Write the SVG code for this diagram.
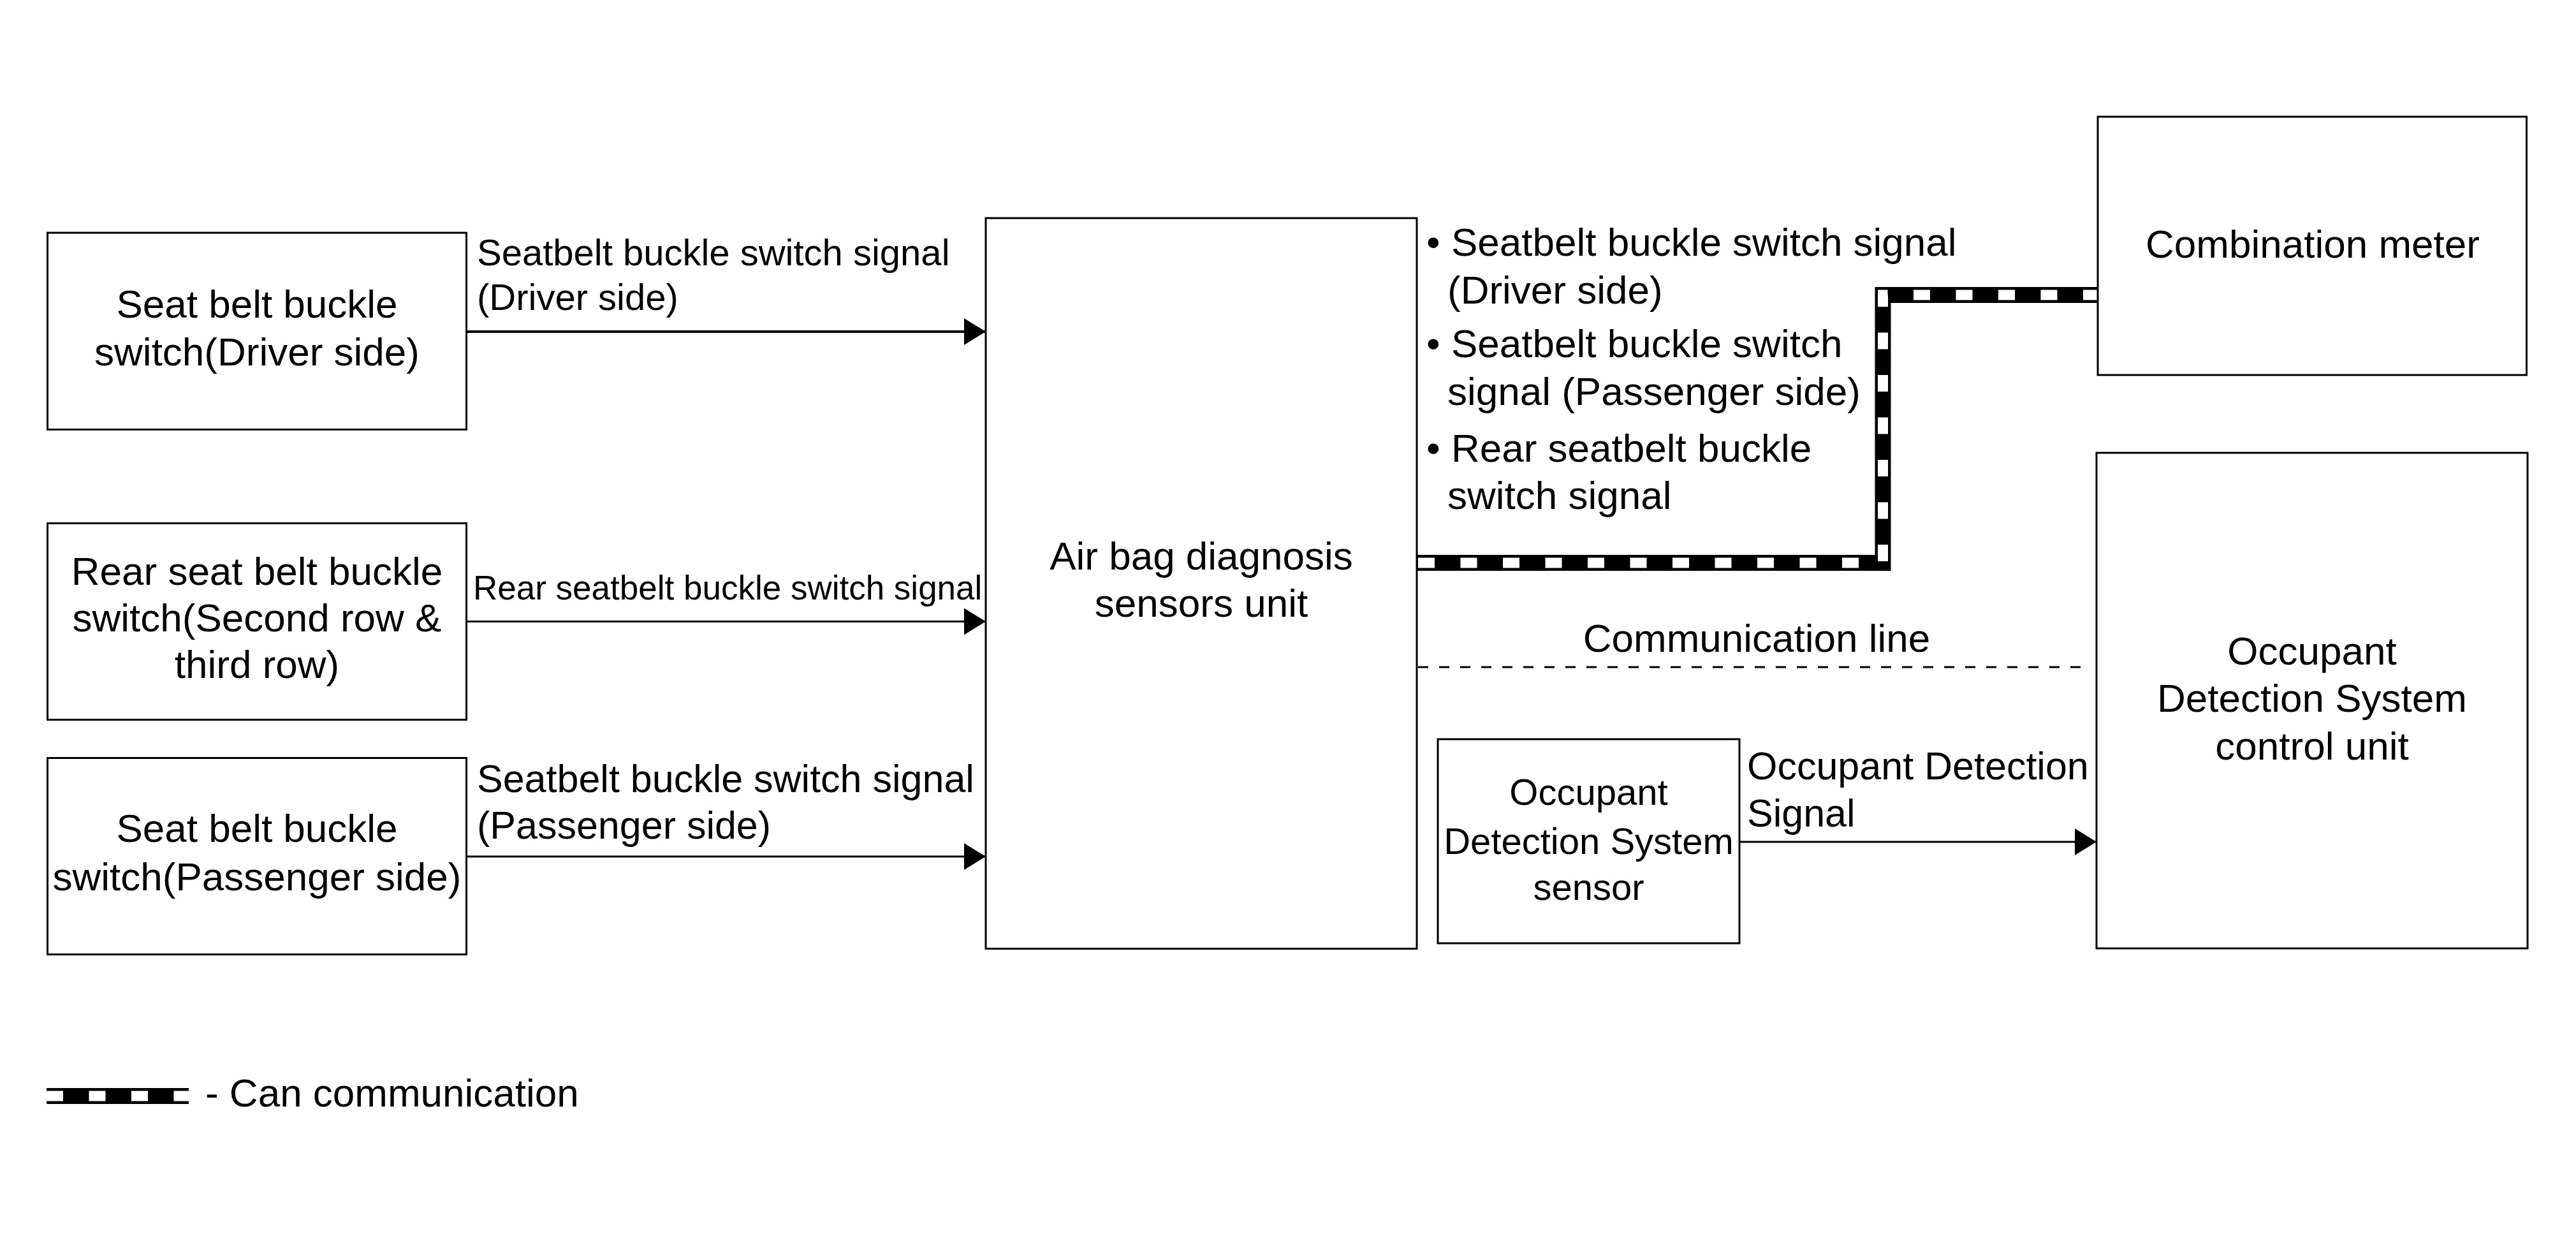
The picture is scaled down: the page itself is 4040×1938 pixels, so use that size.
<svg xmlns="http://www.w3.org/2000/svg" width="4040" height="1938" viewBox="0 0 4040 1938">
<style>
.box{fill:#fff;stroke:#000;stroke-width:3}
text{font-family:"Liberation Sans",Arial,sans-serif;font-size:62px;fill:#000}
.c{text-anchor:middle}
.arr{fill:none;stroke:#000;stroke-width:3}
.canb{fill:none;stroke:#000;stroke-width:25;stroke-linejoin:miter}
.canw{fill:none;stroke:#fff;stroke-width:16;stroke-dasharray:26 40.5;stroke-linejoin:miter}
.dash{fill:none;stroke:#000;stroke-width:3;stroke-dasharray:16 17}
</style>
<defs>
<marker id="ah" markerUnits="userSpaceOnUse" markerWidth="36" markerHeight="44" refX="34" refY="21" orient="auto">
<path d="M0,0 L34,21 L0,42 Z" fill="#000"/>
</marker>
</defs>
<rect x="0" y="0" width="4040" height="1938" fill="#fff"/>

<g id="connectors">
<line class="arr" x1="731" y1="520" x2="1546" y2="520" style="stroke-width:4" marker-end="url(#ah)"/>
<line class="arr" x1="731" y1="974.5" x2="1546" y2="974.5" marker-end="url(#ah)"/>
<line class="arr" x1="731" y1="1343" x2="1546" y2="1343" marker-end="url(#ah)"/>
<line class="arr" x1="2728" y1="1320" x2="3288" y2="1320" marker-end="url(#ah)"/>
<line class="dash" x1="2224" y1="1046" x2="3280" y2="1046"/>
<path class="canb" d="M2222,882.5 H2953 V462.5 H3289"/>
<path class="canw" d="M2222,882.5 H2953 V462.5 H3289" stroke-dashoffset="-2"/>
<text x="748" y="416" style="font-size:58px">Seatbelt buckle switch signal</text>
<text x="748" y="486" style="font-size:58px">(Driver side)</text>
<text x="742" y="940" style="font-size:53px">Rear seatbelt buckle switch signal</text>
<text x="748" y="1242" style="font-size:61px">Seatbelt buckle switch signal</text>
<text x="748" y="1315" style="font-size:61px">(Passenger side)</text>
<text x="2237" y="401">• Seatbelt buckle switch signal</text>
<text x="2270" y="476">(Driver side)</text>
<text x="2237" y="560">• Seatbelt buckle switch</text>
<text x="2270" y="635">signal (Passenger side)</text>
<text x="2237" y="724">• Rear seatbelt buckle</text>
<text x="2270" y="798">switch signal</text>
<text class="c" x="2755" y="1022">Communication line</text>
<text x="2740" y="1222" style="font-size:61px">Occupant Detection</text>
<text x="2740" y="1296" style="font-size:61px">Signal</text>
</g>

<g id="node-driver-switch">
<rect class="box" x="74.5" y="365" width="657" height="308.5"/>
<text class="c" x="403" y="498">Seat belt buckle</text>
<text class="c" x="403" y="573">switch(Driver side)</text>
</g>

<g id="node-rear-switch">
<rect class="box" x="74.5" y="820.5" width="657" height="308"/>
<text class="c" x="403" y="917">Rear seat belt buckle</text>
<text class="c" x="403" y="990">switch(Second row &amp;</text>
<text class="c" x="403" y="1063">third row)</text>
</g>

<g id="node-passenger-switch">
<rect class="box" x="74.5" y="1188.5" width="657" height="308"/>
<text class="c" x="403" y="1320">Seat belt buckle</text>
<text class="c" x="403" y="1396">switch(Passenger side)</text>
</g>

<g id="node-airbag-unit">
<rect class="box" x="1546" y="342" width="676" height="1145.5"/>
<text class="c" x="1884" y="893">Air bag diagnosis</text>
<text class="c" x="1884" y="967">sensors unit</text>
</g>

<g id="node-combination-meter">
<rect class="box" x="3290" y="183" width="672.5" height="405"/>
<text class="c" x="3627" y="404">Combination meter</text>
</g>

<g id="node-ods-control">
<rect class="box" x="3288" y="710" width="676" height="777"/>
<text class="c" x="3626" y="1042">Occupant</text>
<text class="c" x="3626" y="1116">Detection System</text>
<text class="c" x="3626" y="1191">control unit</text>
</g>

<g id="node-ods-sensor">
<rect class="box" x="2255" y="1159" width="473" height="320"/>
<text class="c" x="2491.5" y="1262" style="font-size:58px">Occupant</text>
<text class="c" x="2491.5" y="1339" style="font-size:58px">Detection System</text>
<text class="c" x="2491.5" y="1411" style="font-size:58px">sensor</text>
</g>

<g id="legend">
<line x1="73" y1="1718.5" x2="296" y2="1718.5" style="stroke:#000;stroke-width:25"/>
<line x1="73" y1="1718.5" x2="296" y2="1718.5" style="stroke:#fff;stroke-width:16;stroke-dasharray:26 40.5"/>
<text x="322" y="1735">- Can communication</text>
</g>
</svg>
